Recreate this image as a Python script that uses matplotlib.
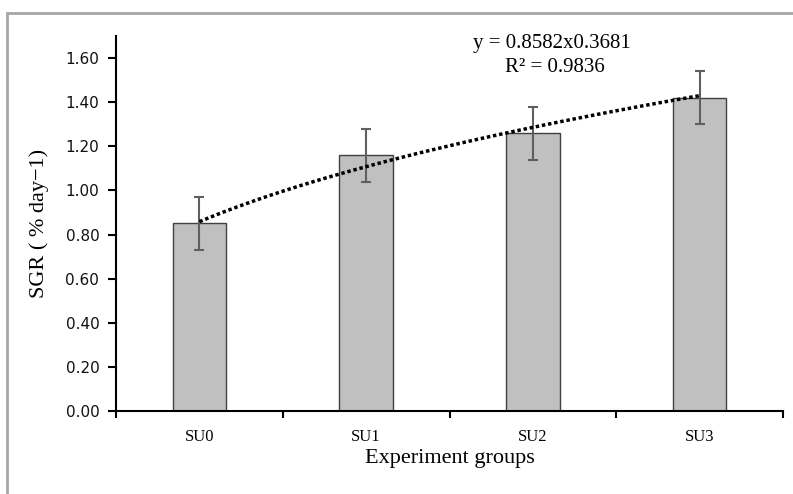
import numpy as np
import matplotlib
matplotlib.use("Agg")
import matplotlib.pyplot as plt
from matplotlib.patches import Rectangle

categories = ["SU0", "SU1", "SU2", "SU3"]
sgr = [0.85, 1.16, 1.26, 1.42]
sgr_err = [0.12, 0.12, 0.12, 0.12]
trend_a = 0.8582
trend_b = 0.3681
yticks = [0.0, 0.2, 0.4, 0.6, 0.8, 1.0, 1.2, 1.4, 1.6]

serif = ["Liberation Serif", "DejaVu Serif"]

fig = plt.figure(figsize=(7.93, 4.94), dpi=100)
ax = fig.add_axes([116/793, 83/494, (783-116)/793, (411-36)/494])

x = np.arange(len(categories))
ax.bar(x, sgr, width=0.32, color="#c0c0c0", edgecolor="#404040", linewidth=1, zorder=2)
ax.errorbar(x, sgr, yerr=sgr_err, fmt="none", ecolor="#5f5f5f", elinewidth=1.5,
            capsize=3.8, capthick=1.5, zorder=3)

xs = np.linspace(0, len(categories) - 1, 100)
ax.plot(xs, trend_a * (xs + 1) ** trend_b, color="black", linestyle=(0, (1, 0.8)),
        linewidth=2.5, zorder=4)

ax.set_xlim(-0.5, len(categories) - 0.5)
ax.set_ylim(0, 1.7)
ax.set_yticks(yticks)
ax.set_yticklabels([f"{v:.2f}" for v in yticks], fontsize=11, family="DejaVu Sans",
                   color="#111111")
ax.set_xticks(np.arange(-0.5, len(categories)), minor=False)
ax.set_xticklabels([])
ax.set_xticks(x, minor=True)
ax.set_xticklabels(categories, minor=True, fontsize=12, family=serif)
ax.tick_params(axis="x", which="major", direction="out", length=5, width=1.5)
ax.tick_params(axis="x", which="minor", length=0, pad=13)
ax.tick_params(axis="y", direction="out", length=6, width=1.5, pad=6)

for s in ["top", "right"]:
    ax.spines[s].set_visible(False)
for s in ["left", "bottom"]:
    ax.spines[s].set_linewidth(1.5)

ax.set_xlabel("Experiment groups", fontsize=16, family=serif, labelpad=3)
ax.set_ylabel("SGR ( % day\u22121)", fontsize=16, family=serif, labelpad=12)

ax.text(0.654, 0.981, f"y = {trend_a}x{trend_b}", transform=ax.transAxes,
        ha="center", va="center", fontsize=15, family=serif)
ax.text(0.658, 0.915, "R\u00b2 = 0.9836", transform=ax.transAxes,
        ha="center", va="center", fontsize=15, family=serif)

fig.patches.append(Rectangle((7/793, -0.1), 1.5, (494-13)/494 + 0.1,
                             transform=fig.transFigure, fill=False,
                             edgecolor="#a6a6a6", linewidth=2))

fig.savefig("out.png", dpi=100)
